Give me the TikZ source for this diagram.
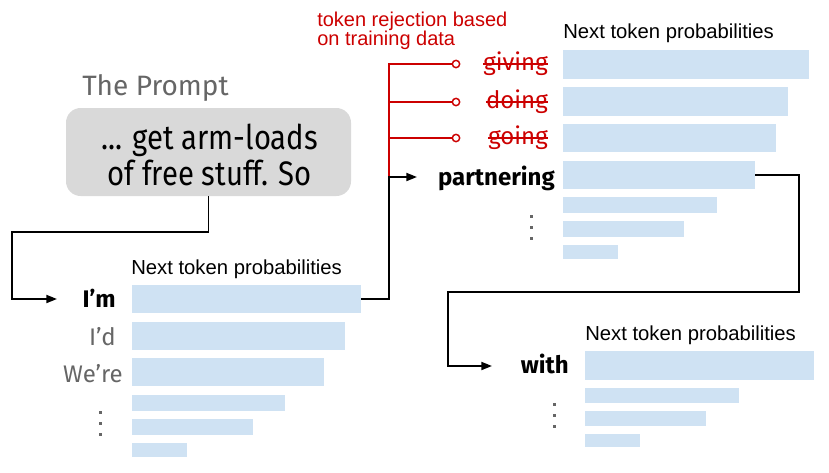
\documentclass[tikz,border=0pt]{standalone}
\usepackage{fontspec}
\setmainfont{Fira Sans}
\newfontfamily\arialf{Liberation Sans}
\newfontfamily\plexc[FakeStretch=0.86]{Fira Sans}
\usetikzlibrary{arrows.meta,fit}
\definecolor{barblue}{HTML}{CFE2F3}
\definecolor{promptgray}{HTML}{D9D9D9}
\definecolor{txtgray}{HTML}{666666}
\definecolor{rejred}{HTML}{CC0000}
\begin{document}
\begin{tikzpicture}[x=0.75pt,y=-0.75pt,
  bar/.style={fill=barblue, inner sep=0pt, draw=none},
  lbl/.style={font=\arialf\fontsize{15.2pt}{18pt}\selectfont, inner sep=0pt, anchor=base west},
  word/.style={font=\fontsize{18pt}{21pt}\selectfont, inner sep=0pt, anchor=base east},
  wordb/.style={word, font=\bfseries\fontsize{18pt}{21pt}\selectfont},
  wordg/.style={word, text=txtgray},
  wordr/.style={word, text=rejred},
  conn/.style={line width=1.4pt, black},
  arr/.style={conn, -{Triangle[length=8pt,width=6pt]}},
  redl/.style={line width=1.3pt, rejred},
  stop/.style={circle, draw=rejred, fill=white, line width=1.1pt, minimum size=5.5pt, inner sep=0pt},
  dotsq/.style={fill=txtgray}
]
\useasboundingbox (0,0) rectangle (829,472);

% prompt
\node[font=\fontsize{21pt}{26pt}\selectfont, text=txtgray, inner sep=0pt, anchor=base west] (title) at (82,95) {The Prompt};
\node[fill=promptgray, rounded corners=11pt, minimum width=213.75pt, minimum height=66pt, inner sep=0pt] (prompt) at (208.5,152) {};
\node[align=center, inner sep=0pt, font=\plexc\fontsize{25.5pt}{27pt}\selectfont] (prompttext) at (209.5,155) {... get arm-loads\\of free stuff. So};

% left group
\node[lbl] (lblL) at (131,274) {Next token probabilities};
\node[bar, fit={(132,285)(361,313)}] (L1) {};
\node[bar, fit={(132,322)(345,350)}] (L2) {};
\node[bar, fit={(132,358)(324,386)}] (L3) {};
\node[bar, fit={(132,395)(285,411)}] (L4) {};
\node[bar, fit={(132,419)(253,435)}] (L5) {};
\node[bar, fit={(132,443)(187,457)}] (L6) {};
\node[wordb] (im) at (116,307) {I’m};
\node[wordg] (id) at (116,345) {I’d};
\node[wordg] (were) at (123,382) {We’re};
\foreach \y in {412,423,434} \fill[dotsq] (98.5,\y-1.5) rectangle ++(3,3);

% top right group
\node[lbl] (lblR) at (563,38) {Next token probabilities};
\node[bar, fit={(563,50)(809,79)}] (R1) {};
\node[bar, fit={(563,87)(788,116)}] (R2) {};
\node[bar, fit={(563,124)(776,152)}] (R3) {};
\node[bar, fit={(563,161)(755,189)}] (R4) {};
\node[bar, fit={(563,197)(717,213)}] (R5) {};
\node[bar, fit={(563,221)(684,237)}] (R6) {};
\node[bar, fit={(563,245)(618,259)}] (R7) {};
\node[wordr] (giving) at (548,70) {giving};
\node[wordr] (doing) at (548,108) {doing};
\node[wordr] (going) at (548,144) {going};
\node[wordb] (partnering) at (555,185) {partnering};
\foreach \y in {216,227,238} \fill[dotsq] (529.5,\y-1.5) rectangle ++(3,3);

% rejection note
\node[font=\arialf\fontsize{15pt}{14.25pt}\selectfont, text=rejred, align=left, inner sep=0pt, anchor=north west] (note) at (317,12) {token rejection based\\on training data};

% bottom right group
\node[lbl] (lblB) at (585,340) {Next token probabilities};
\node[bar, fit={(585,351)(814,380)}] (B1) {};
\node[bar, fit={(585,388)(739,403)}] (B2) {};
\node[bar, fit={(585,411)(706,426)}] (B3) {};
\node[bar, fit={(585,434)(640,447)}] (B4) {};
\node[wordb] (with) at (569,373) {with};
\foreach \y in {404,415,426} \fill[dotsq] (552.5,\y-1.5) rectangle ++(3,3);

% coordinates
\coordinate (p2) at (12,232);
\coordinate (p4) at (57,299);
\coordinate (j2) at (389,177);
\coordinate (a2) at (417,177);
\coordinate (r1) at (389,64);
\coordinate (r2) at (389,102);
\coordinate (r3) at (389,138);
\node[stop] (c1) at (456,64) {};
\node[stop] (c2) at (456,102) {};
\node[stop] (c3) at (456,138) {};
\coordinate (k1) at (799,292);
\coordinate (k2) at (448,292);
\coordinate (k3) at (492,366);

% red rejection lines
\draw[redl] (j2) -- (r1) -- (c1.west);
\draw[redl] (r2) -- (c2.west);
\draw[redl] (r3) -- (c3.west);
\draw[redl] (giving.west |- c1) -- (giving.east |- c1);
\draw[redl] (doing.west |- c2) -- (doing.east |- c2);
\draw[redl] (going.west |- c3) -- (going.east |- c3);

% connectors
\draw[arr] (prompt.south) |- (p2) |- (p4);
\draw[arr] (L1.east) -| (j2) -- (a2);
\draw[arr] (R4.east) -| (k1) -- (k2) |- (k3);
\end{tikzpicture}
\end{document}
